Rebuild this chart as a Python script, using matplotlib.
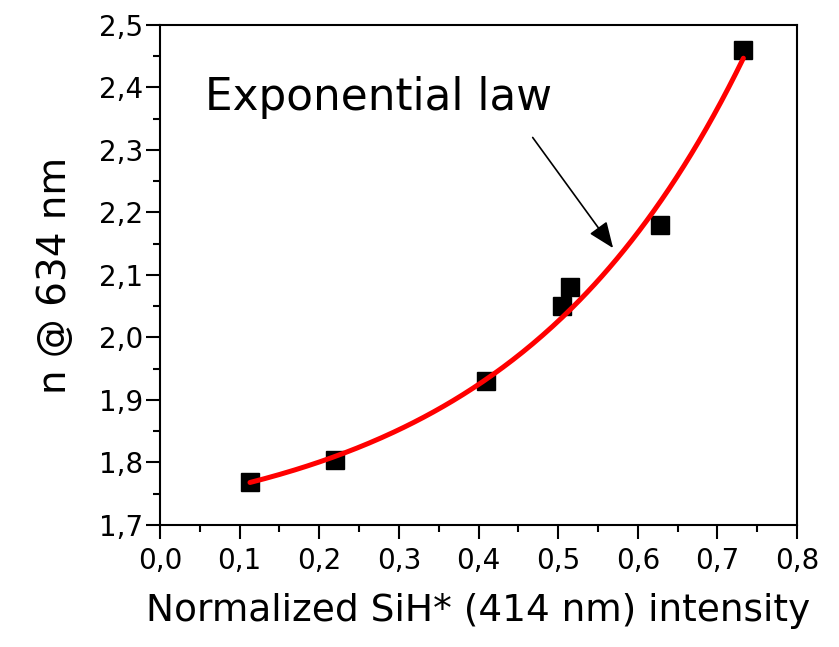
import numpy as np
import matplotlib
matplotlib.use('Agg')
import matplotlib.pyplot as plt
from matplotlib.ticker import MultipleLocator, FuncFormatter

# measured refractive index vs normalized SiH* emission
sih_intensity = [0.113, 0.220, 0.409, 0.505, 0.515, 0.628, 0.732]
n_index = [1.768, 1.804, 1.930, 2.050, 2.080, 2.180, 2.460]

# exponential law fit: n = n0 + A * exp(x / t)
fit_n0 = 1.6716
fit_A = 0.0659
fit_t = 0.2972
fit_range = (0.113, 0.7326)


def comma(v, pos):
    return f'{v:.1f}'.replace('.', ',')


fig = plt.figure(figsize=(8.39, 6.47), dpi=100)
ax = fig.add_axes([0.1907, 0.1886, 0.7593, 0.7728])

xf = np.linspace(*fit_range, 200)
ax.plot(xf, fit_n0 + fit_A * np.exp(xf / fit_t), color='red', lw=3.6,
        solid_capstyle='round', zorder=3)
ax.plot(sih_intensity, n_index, 's', color='black', ms=12.5, zorder=2)

ax.annotate('', xy=(0.569, 2.143), xytext=(0.468, 2.320),
            arrowprops=dict(arrowstyle='-|>,head_length=1.6,head_width=0.65',
                            color='black', lw=1.2, shrinkA=0, shrinkB=0))
ax.text(0.0565, 2.364, 'Exponential law', fontsize=31.5, va='baseline')

ax.set_xlim(0, 0.8)
ax.set_ylim(1.7, 2.5)
ax.xaxis.set_major_locator(MultipleLocator(0.1))
ax.xaxis.set_minor_locator(MultipleLocator(0.05))
ax.yaxis.set_major_locator(MultipleLocator(0.1))
ax.yaxis.set_minor_locator(MultipleLocator(0.05))
ax.xaxis.set_major_formatter(FuncFormatter(comma))
ax.yaxis.set_major_formatter(FuncFormatter(comma))
ax.tick_params(which='major', direction='out', length=10, width=1.5,
               labelsize=20)
ax.tick_params(which='minor', direction='out', length=5, width=1.5)
ax.tick_params(axis='x', pad=6)
ax.tick_params(axis='y', pad=2)
for s in ax.spines.values():
    s.set_linewidth(1.5)

ax.set_xlabel('Normalized SiH* (414 nm) intensity', fontsize=27, labelpad=13)
ax.set_ylabel('n @ 634 nm', fontsize=28, labelpad=18)

fig.savefig('out.png', dpi=100)
